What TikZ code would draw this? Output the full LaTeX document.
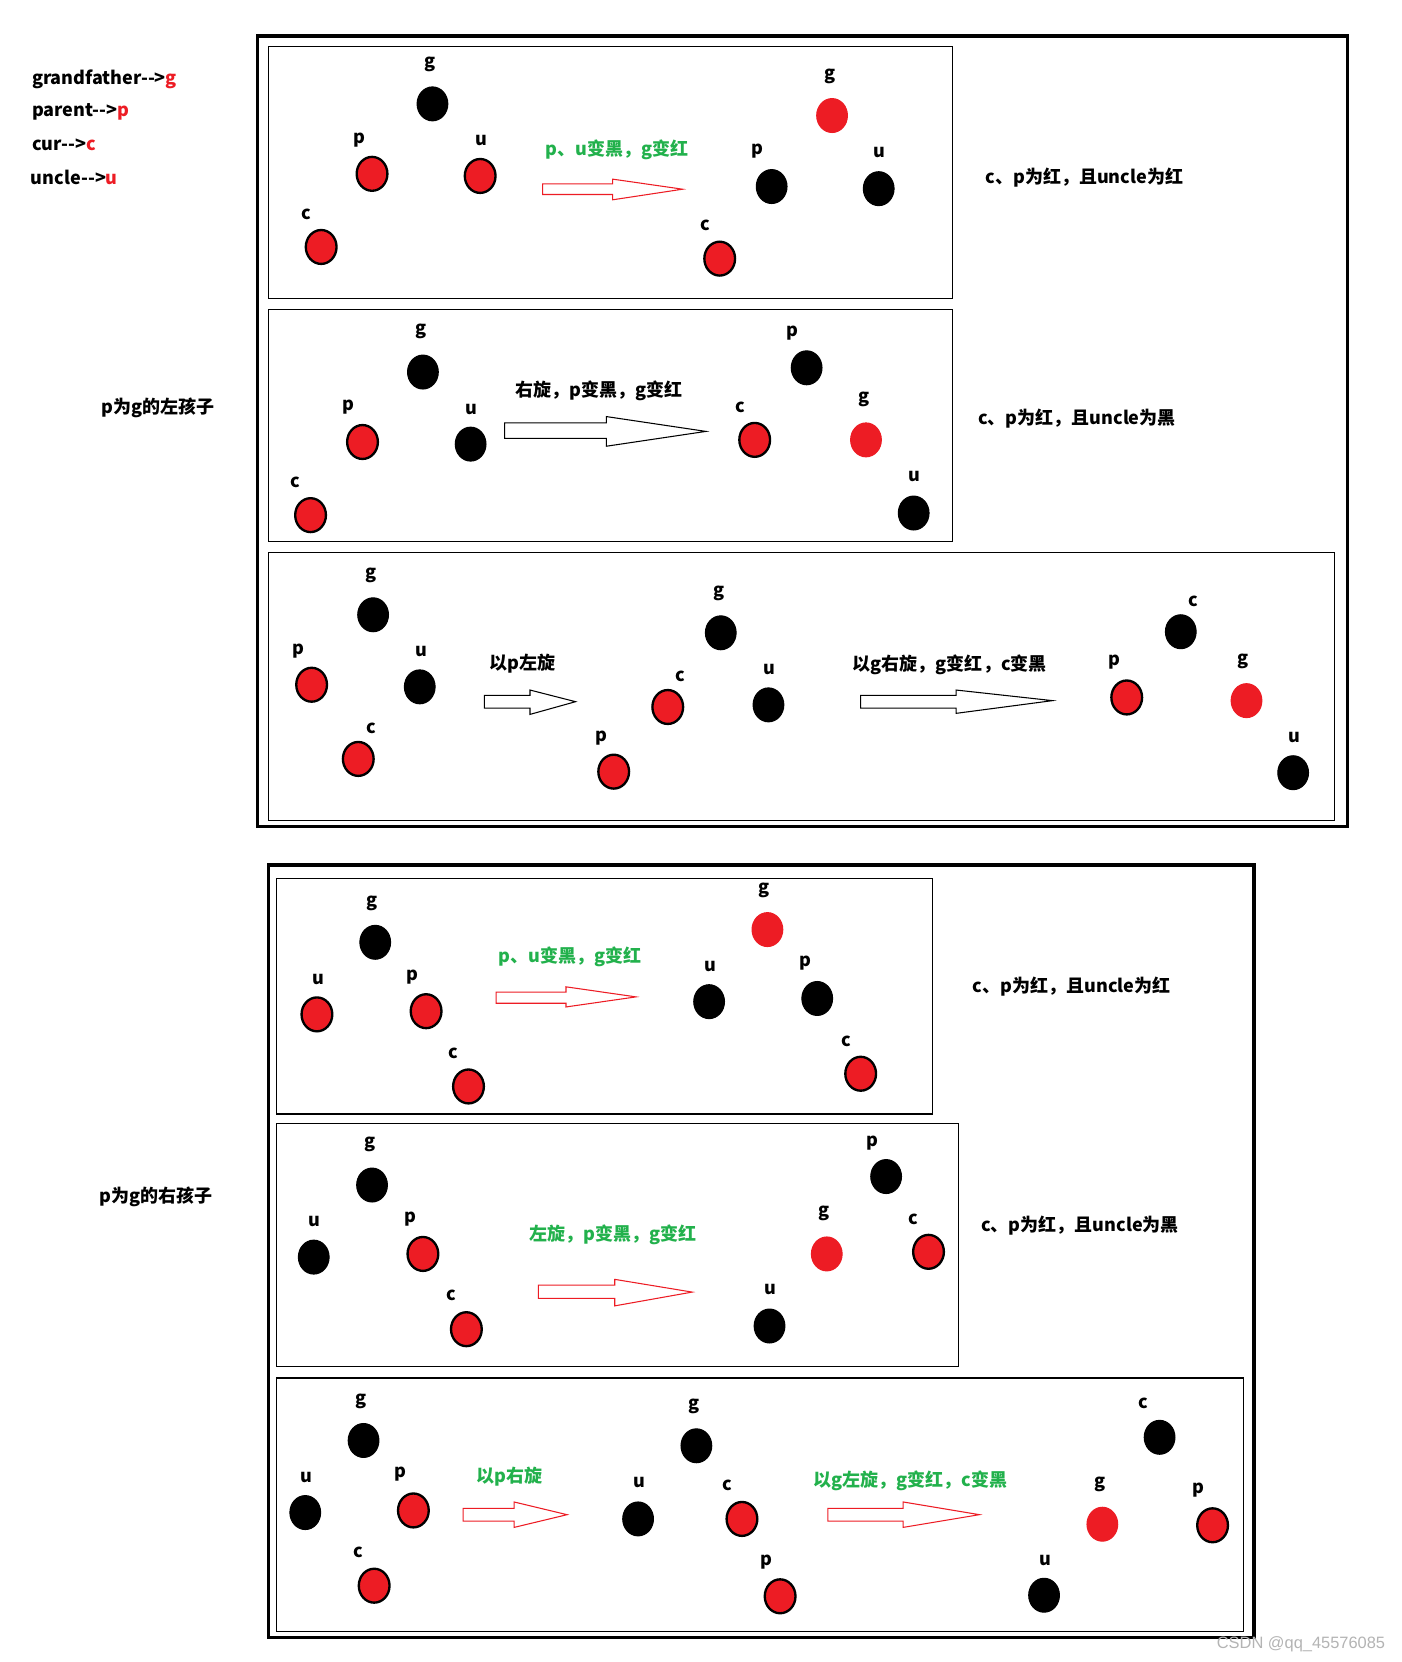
\documentclass[tikz,border=0pt]{standalone}
\usepackage{fontspec}
\setmainfont{Noto Sans CJK SC}
\newfontfamily\wmfont{Liberation Sans}
\usetikzlibrary{shapes.geometric}
\definecolor{pred}{HTML}{ED1C24}
\definecolor{pgreen}{HTML}{22B14C}
\definecolor{wmgray}{HTML}{B4B4B4}
\tikzset{
  nd/.style={ellipse, inner sep=0pt, minimum width=29pt, minimum height=32pt},
  rb/.style={nd, fill=pred, draw=black, line width=2.2pt},
  rf/.style={nd, fill=pred, draw=pred, line width=1pt},
  bk/.style={nd, fill=black, draw=black, line width=1pt},
  lab/.style={font=\fontsize{17}{20}\selectfont\bfseries, inner sep=0pt},
  txt/.style={font=\fontsize{17}{20}\selectfont\bfseries, inner sep=0pt},
  outerbox/.style={draw=black, line width=3pt},
  innerbox/.style={draw=black, line width=1.1pt},
  redarr/.style={draw=pred, line width=1pt, fill=white},
  blkarr/.style={draw=black, line width=1pt, fill=white},
}
% #1 style, #2 x0, #3 xbase, #4 xtip, #5 shaft top, #6 shaft bottom, #7 head top, #8 head bottom, #9 tip y
\newcommand\barrow[9]{\draw[#1] (#2,#5) -- (#3,#5) -- (#3,#7) -- (#4,#9) -- (#3,#8) -- (#3,#6) -- (#2,#6) -- cycle;}
% tree node: #1 style, #2 name, #3 pos, #4 label pos, #5 letter
\newcommand\tn[5]{\node[#1] (#2) at (#3) {}; \node[lab] (#2l) at (#4) {#5};}
\newcommand\dd{-{}-{}>}
\begin{document}
\begin{tikzpicture}[x=1pt,y=-1pt]
\useasboundingbox (0,0) rectangle (1322,1568);
\fill[white] (0,0) rectangle (1322,1568);

% legend
\node[txt, anchor=west] (lg1) at (30,75) {grandfather\dd\textcolor{pred}{g}};
\node[txt, anchor=west] (lg2) at (30,106) {parent\dd\textcolor{pred}{p}};
\node[txt, anchor=west] (lg3) at (30,137) {cur\dd\textcolor{pred}{c}};
\node[txt, anchor=west] (lg4) at (29,167) {uncle\dd\textcolor{pred}{u}};

\node[txt] (leftL) at (149,385) {p为g的左孩子};
\node[txt] (leftR) at (147,1129) {p为g的右孩子};

% boxes
\draw[outerbox] (243,34) rectangle (1271,780);
\draw[outerbox] (253,816) rectangle (1183,1545);
\draw[innerbox] (253,44) rectangle (899,282);
\draw[innerbox] (253,292) rectangle (899,511);
\draw[innerbox] (253,521) rectangle (1259,774);
\draw[innerbox] (261,829) rectangle (880,1051);
\draw[innerbox] (261,1060) rectangle (904,1289);
\draw[innerbox] (261,1300) rectangle (1173,1539);

% right labels
\node[txt] (r1) at (1023,168) {c、p为红，且uncle为红};
\node[txt] (r2) at (1016,395) {c、p为红，且uncle为黑};
\node[txt] (r3) at (1011,931) {c、p为红，且uncle为红};
\node[txt] (r4) at (1019,1156) {c、p为红，且uncle为黑};

% ---- Box A1
\tn{bk}{a1g}{408,98}{406,61}{g}
\tn{rb}{a1p}{351,164}{339,132}{p}
\tn{rb}{a1u}{453,166}{454,133}{u}
\tn{rb}{a1c}{303,233}{289,202}{c}
\node[txt, text=pgreen] (a1t) at (582,141) {p、u变黑，g变红};
\barrow{redarr}{512}{578}{644}{173.5}{183.5}{169}{188.5}{178.5}
\tn{rf}{a1g2}{785,109}{783,72}{g}
\tn{bk}{a1p2}{728,176}{715,143}{p}
\tn{bk}{a1u2}{829,178}{830,144}{u}
\tn{rb}{a1c2}{679,244}{665,213}{c}

% ---- Box A2
\tn{bk}{a2g}{399,351}{397,313}{g}
\tn{rb}{a2p}{342,417}{329,384}{p}
\tn{bk}{a2u}{444,419}{445,386}{u}
\tn{rb}{a2c}{293,486}{279,455}{c}
\node[txt] (a2t) at (565,369) {右旋，p变黑，g变红};
\barrow{blkarr}{476}{572}{666}{399}{413.5}{393}{421}{407}
\tn{bk}{a2p2}{761,347}{748,314}{p}
\tn{rb}{a2c2}{712,415}{698,384}{c}
\tn{rf}{a2g2}{817,415}{815,377}{g}
\tn{bk}{a2u2}{862,484}{863,450}{u}

% ---- Box A3
\tn{bk}{a3g}{352,580}{350,543}{g}
\tn{rb}{a3p}{294,646}{282,614}{p}
\tn{bk}{a3u}{396,648}{398,615}{u}
\tn{rb}{a3c}{338,716}{350,687}{c}
\node[txt] (a3t1) at (493,626) {以p左旋};
\barrow{blkarr}{457}{500}{543}{656}{668}{651}{674}{662}
\tn{bk}{a3g2}{680,597}{678,560}{g}
\tn{rb}{a3c2}{630,667}{642,638}{c}
\tn{bk}{a3u2}{725,665}{726,632}{u}
\tn{rb}{a3p2}{579,728}{567,696}{p}
\node[txt] (a3t2) at (896,627) {以g右旋，g变红，c变黑};
\barrow{blkarr}{812}{902}{993}{656}{668}{651}{673}{661}
\tn{bk}{a3c3}{1114,596}{1126,567}{c}
\tn{rb}{a3p3}{1063,658}{1051,625}{p}
\tn{rf}{a3g3}{1176,661}{1173,624}{g}
\tn{bk}{a3u3}{1220,729}{1221,696}{u}

% ---- Box B1
\tn{bk}{b1g}{354,889}{351,852}{g}
\tn{rb}{b1u}{299,957}{300,924}{u}
\tn{rb}{b1p}{402,954}{389,922}{p}
\tn{rb}{b1c}{442,1025}{428,994}{c}
\node[txt, text=pgreen] (b1t) at (538,903) {p、u变黑，g变红};
\barrow{redarr}{468}{534}{600}{936}{946.5}{931}{950}{940.5}
\tn{rf}{b1g2}{724,877}{721,840}{g}
\tn{bk}{b1u2}{669,945}{670,912}{u}
\tn{bk}{b1p2}{771,942}{760,909}{p}
\tn{rb}{b1c2}{812,1013}{798,982}{c}

% ---- Box B2
\tn{bk}{b2g}{351,1118}{349,1080}{g}
\tn{bk}{b2u}{296,1186}{297,1152}{u}
\tn{rb}{b2p}{399,1183}{387,1150}{p}
\tn{rb}{b2c}{440,1254}{426,1222}{c}
\node[txt, text=pgreen] (b2t) at (578,1165) {左旋，p变黑，g变红};
\barrow{redarr}{508}{580}{653}{1212.5}{1225}{1207}{1232}{1219}
\tn{bk}{b2p2}{836,1110}{823,1078}{p}
\tn{rf}{b2g2}{780,1183}{777,1145}{g}
\tn{rb}{b2c2}{876,1181}{862,1150}{c}
\tn{bk}{b2u2}{726,1251}{727,1217}{u}

% ---- Box B3
\tn{bk}{b3g}{343,1359}{341,1322}{g}
\tn{bk}{b3u}{288,1427}{289,1394}{u}
\tn{rb}{b3p}{390,1425}{378,1391}{p}
\tn{rb}{b3c}{353,1496}{338,1465}{c}
\node[txt, text=pgreen] (b3t1) at (481,1393) {以p右旋};
\barrow{redarr}{437}{485}{535}{1423}{1435}{1417}{1441}{1429}
\tn{bk}{b3g2}{657,1364}{655,1327}{g}
\tn{bk}{b3u2}{602,1433}{603,1399}{u}
\tn{rb}{b3c2}{700,1433}{686,1401}{c}
\tn{rb}{b3p2}{736,1506}{723,1474}{p}
\node[txt, text=pgreen] (b3t2) at (859,1397) {以g左旋，g变红，c变黑};
\barrow{redarr}{781}{852}{924}{1423}{1435}{1417}{1441}{1429}
\tn{bk}{b3c3}{1094,1356}{1079,1324}{c}
\tn{rf}{b3g3}{1040,1438}{1038,1400}{g}
\tn{rb}{b3p3}{1144,1439}{1131,1406}{p}
\tn{bk}{b3u3}{985,1505}{986,1472}{u}

% watermark
\node[anchor=east, inner sep=0pt, text=wmgray, font=\wmfont\fontsize{15.5}{18}\selectfont] (wm) at (1307,1551) {CSDN @qq\_45576085};
\end{tikzpicture}
\end{document}
